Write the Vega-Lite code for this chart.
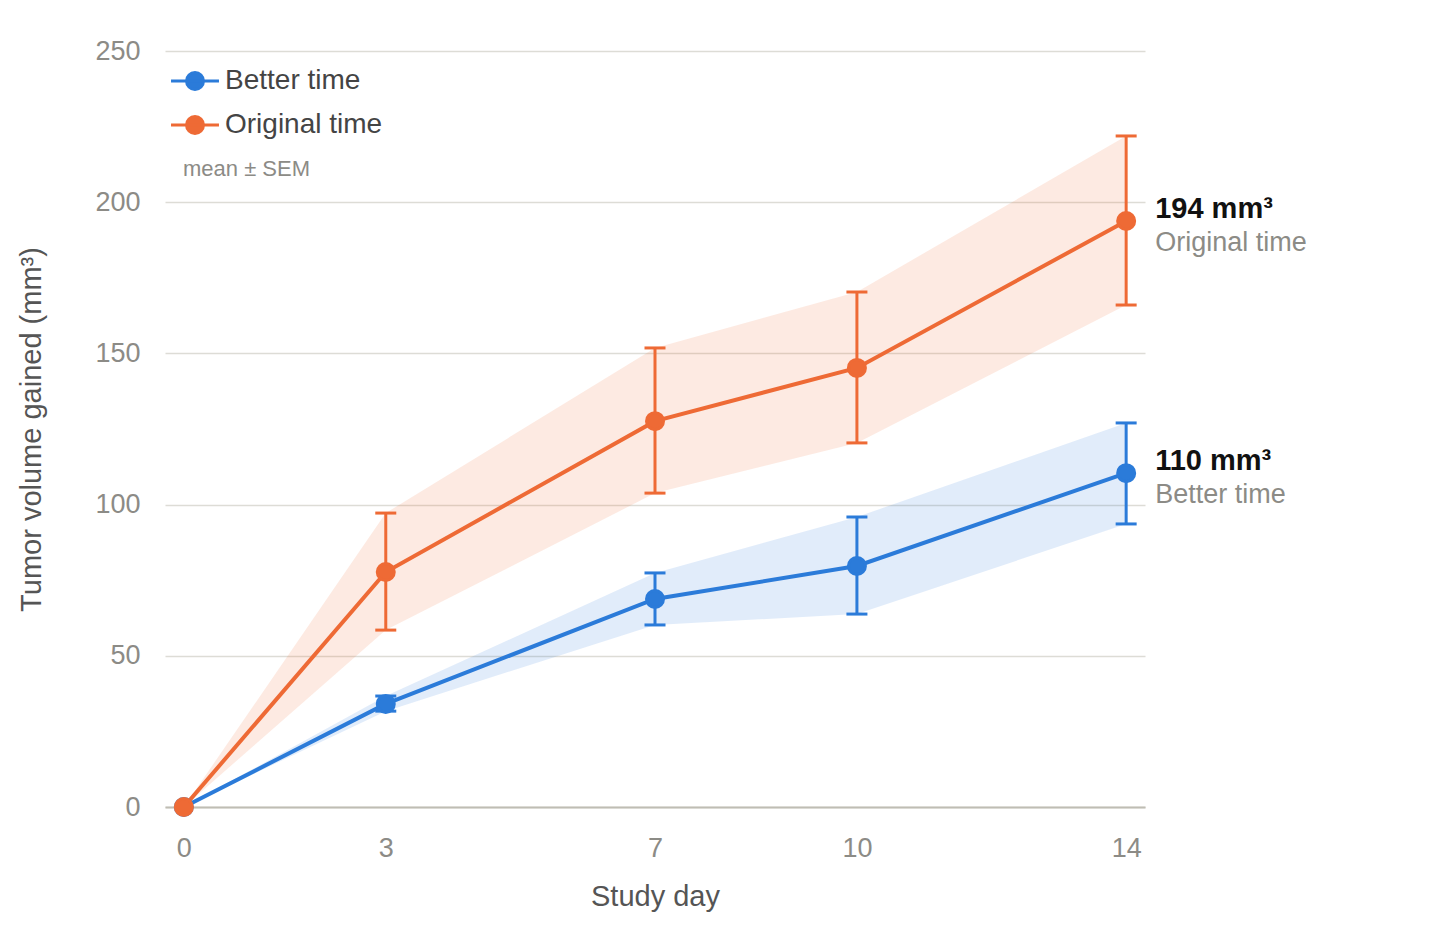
{
  "$schema": "https://vega.github.io/schema/vega-lite/v6.json",
  "width": 980,
  "height": 756,
  "autosize": {"type": "none"},
  "padding": {"left": 165, "top": 51, "right": 311, "bottom": 132},
  "background": "white",
  "config": {
    "view": {"stroke": null},
    "font": "Liberation Sans"
  },
  "data": {
    "values": [
      {"series": "Better time", "day": 0, "mean": 0, "lo": 0, "hi": 0},
      {"series": "Better time", "day": 3, "mean": 34.1, "lo": 31.7, "hi": 36.7},
      {"series": "Better time", "day": 7, "mean": 68.8, "lo": 60.2, "hi": 77.4},
      {"series": "Better time", "day": 10, "mean": 79.7, "lo": 63.8, "hi": 95.9},
      {"series": "Better time", "day": 14, "mean": 110.4, "lo": 93.6, "hi": 127.0},
      {"series": "Original time", "day": 0, "mean": 0, "lo": 0, "hi": 0},
      {"series": "Original time", "day": 3, "mean": 77.7, "lo": 58.5, "hi": 97.2},
      {"series": "Original time", "day": 7, "mean": 127.6, "lo": 103.8, "hi": 151.8},
      {"series": "Original time", "day": 10, "mean": 145.2, "lo": 120.4, "hi": 170.3},
      {"series": "Original time", "day": 14, "mean": 193.8, "lo": 166.0, "hi": 221.9}
    ]
  },
  "encoding": {
    "x": {
      "field": "day",
      "type": "quantitative",
      "scale": {"domain": [-0.28, 14.28], "nice": false, "zero": false},
      "axis": {
        "values": [0, 3, 7, 10, 14],
        "title": "Study day",
        "grid": false,
        "ticks": false,
        "domain": true,
        "domainColor": "#bfbdb4",
        "domainWidth": 2,
        "labelFontSize": 27,
        "labelColor": "#8c8b86",
        "labelPadding": 28,
        "titleFontSize": 29,
        "titleFontWeight": "normal",
        "titleColor": "#555555",
        "titlePadding": 21
      }
    }
  },
  "layer": [
    {
      "mark": {"type": "area", "opacity": 0.14},
      "encoding": {
        "y": {"field": "lo", "type": "quantitative"},
        "y2": {"field": "hi"},
        "detail": {"field": "series"},
        "color": {"condition": {"test": "datum.series === 'Better time'", "value": "#2b7bd9"}, "value": "#ee6a35"}
      }
    },
    {
      "transform": [{"filter": "datum.day > 0"}],
      "mark": {"type": "rule", "strokeWidth": 3},
      "encoding": {
        "y": {"field": "lo", "type": "quantitative"},
        "y2": {"field": "hi"},
        "color": {"condition": {"test": "datum.series === 'Better time'", "value": "#2b7bd9"}, "value": "#ee6a35"}
      }
    },
    {
      "transform": [{"filter": "datum.day > 0"}],
      "mark": {"type": "tick", "orient": "horizontal", "size": 21, "thickness": 3, "opacity": 1},
      "encoding": {
        "y": {"field": "lo", "type": "quantitative"},
        "color": {"condition": {"test": "datum.series === 'Better time'", "value": "#2b7bd9"}, "value": "#ee6a35"}
      }
    },
    {
      "transform": [{"filter": "datum.day > 0"}],
      "mark": {"type": "tick", "orient": "horizontal", "size": 21, "thickness": 3, "opacity": 1},
      "encoding": {
        "y": {"field": "hi", "type": "quantitative"},
        "color": {"condition": {"test": "datum.series === 'Better time'", "value": "#2b7bd9"}, "value": "#ee6a35"}
      }
    },
    {
      "mark": {"type": "line", "strokeWidth": 4},
      "encoding": {
        "y": {"field": "mean", "type": "quantitative"},
        "detail": {"field": "series"},
        "color": {"condition": {"test": "datum.series === 'Better time'", "value": "#2b7bd9"}, "value": "#ee6a35"}
      }
    },
    {
      "mark": {"type": "point", "filled": true, "size": 289, "opacity": 1, "strokeWidth": 3},
      "encoding": {
        "y": {
          "field": "mean",
          "type": "quantitative",
          "scale": {"domain": [0, 250], "nice": false},
          "axis": {
            "values": [0, 50, 100, 150, 200, 250],
            "title": "Tumor volume gained (mm³)",
            "grid": true,
            "gridColor": "#dddcd6",
            "gridWidth": 1.5,
            "ticks": false,
            "domain": false,
            "labelFontSize": 27,
            "labelColor": "#8c8b86",
            "labelPadding": 25,
            "titleFontSize": 29,
            "titleFontWeight": "normal",
            "titleColor": "#555555",
            "titlePadding": 48
          }
        },
        "stroke": {
          "field": "series",
          "type": "nominal",
          "scale": {"domain": ["Better time", "Original time"], "range": ["#2b7bd9", "#ee6a35"]},
          "legend": {
            "orient": "none",
            "legendX": 18,
            "legendY": 16,
            "padding": 0,
            "title": "mean ± SEM",
            "titleOrient": "bottom",
            "titleAnchor": "start",
            "titleFontSize": 22,
            "titleFontWeight": "normal",
            "titleColor": "#8c8b86",
            "titlePadding": 19,
            "symbolType": "M -2.82 0 L 2.82 0 M 1 0 C 1 0.5523 0.5523 1 0 1 C -0.5523 1 -1 0.5523 -1 0 C -1 -0.5523 -0.5523 -1 0 -1 C 0.5523 -1 1 -0.5523 1 0 Z",
            "symbolSize": 289,
            "symbolStrokeWidth": 3,
            "symbolOffset": -2,
            "labelFontSize": 28,
            "labelColor": "#444444",
            "labelOffset": 16,
            "rowPadding": 14
          }
        },
        "color": {
          "field": "series",
          "type": "nominal",
          "scale": {"domain": ["Better time", "Original time"], "range": ["#2b7bd9", "#ee6a35"]},
          "legend": {
            "orient": "none",
            "legendX": 18,
            "legendY": 16,
            "padding": 0,
            "title": "mean ± SEM",
            "titleOrient": "bottom",
            "titleAnchor": "start",
            "titleFontSize": 22,
            "titleFontWeight": "normal",
            "titleColor": "#8c8b86",
            "titlePadding": 19,
            "symbolType": "M -2.82 0 L 2.82 0 M 1 0 C 1 0.5523 0.5523 1 0 1 C -0.5523 1 -1 0.5523 -1 0 C -1 -0.5523 -0.5523 -1 0 -1 C 0.5523 -1 1 -0.5523 1 0 Z",
            "symbolSize": 289,
            "symbolStrokeWidth": 3,
            "symbolOffset": -2,
            "labelFontSize": 28,
            "labelColor": "#444444",
            "labelOffset": 16,
            "rowPadding": 14
          }
        }
      }
    },
    {
      "transform": [
        {"filter": "datum.day == 14"},
        {"calculate": "format(datum.mean, '.0f') + ' mm³'", "as": "endLabel"}
      ],
      "mark": {"type": "text", "align": "left", "baseline": "middle", "dx": 29, "dy": -12, "fontSize": 29, "fontWeight": "bold", "color": "#111111"},
      "encoding": {
        "y": {"field": "mean", "type": "quantitative"},
        "text": {"field": "endLabel"}
      }
    },
    {
      "transform": [{"filter": "datum.day == 14"}],
      "mark": {"type": "text", "align": "left", "baseline": "middle", "dx": 29, "dy": 22, "fontSize": 27, "color": "#8c8b86"},
      "encoding": {
        "y": {"field": "mean", "type": "quantitative"},
        "text": {"field": "series"}
      }
    }
  ]
}
